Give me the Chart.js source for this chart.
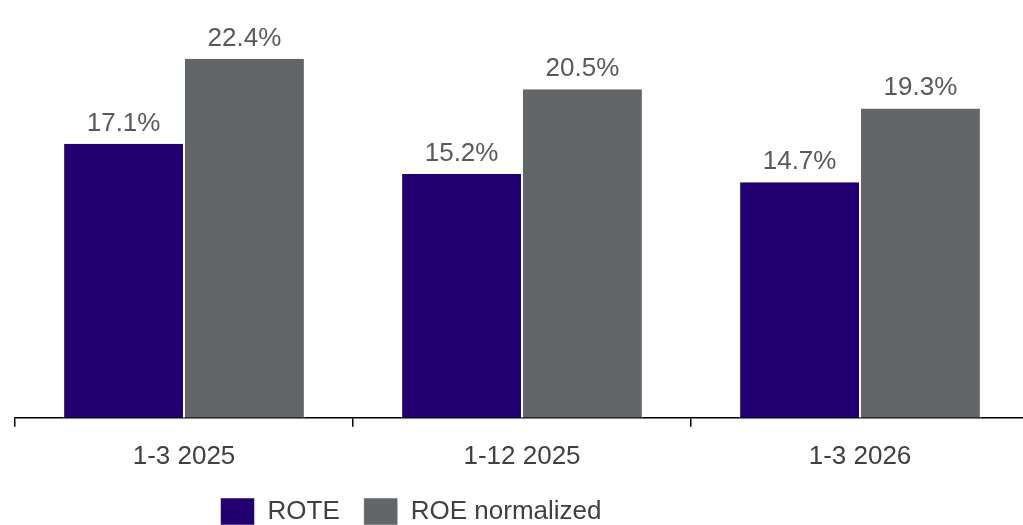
<!DOCTYPE html>
<html>
<head>
<meta charset="utf-8">
<script src="https://cdn.jsdelivr.net/npm/chart.js@4"></script>
<style>
    html, body { margin: 0; padding: 0; background: #fff; overflow: hidden; }
    #wrap { width: 1030px; height: 525px; }
</style>
</head>
<body>
<div id="wrap"><canvas id="chart"></canvas></div>
<script>
var periods = ['1-3 2025', '1-12 2025', '1-3 2026'];
var rote = [17.1, 15.2, 14.7];
var roeNormalized = [22.4, 20.5, 19.3];

var purple = '#230072';
var grey = '#636669';
var font = 'Arial, "Liberation Sans", sans-serif';

// percentage labels above each bar
var valueLabels = {
    id: 'valueLabels',
    afterDatasetsDraw: function(chart) {
        var ctx = chart.ctx;
        ctx.save();
        ctx.font = '26px ' + font;
        ctx.fillStyle = '#595959';
        ctx.textAlign = 'center';
        ctx.textBaseline = 'alphabetic';
        chart.data.datasets.forEach(function(ds, i) {
            chart.getDatasetMeta(i).data.forEach(function(bar, j) {
                ctx.fillText(ds.data[j].toFixed(1) + '%', bar.x, bar.y - 13);
            });
        });
        ctx.restore();
    }
};

// legend sits left of centre and a bit higher
var legendShift = {
    id: 'legendShift',
    afterLayout: function(chart) {
        chart.legend.left -= 111;
        chart.legend.right -= 111;
        chart.legend.top -= 12;
        chart.legend.bottom -= 12;
    }
};

new Chart(document.getElementById('chart'), {
    type: 'bar',
    data: {
        labels: periods,
        datasets: [{
            label: 'ROTE',
            data: rote,
            backgroundColor: purple,
            borderColor: '#ffffff',
            borderWidth: { left: 1, right: 1 },
            borderSkipped: false
        }, {
            label: 'ROE normalized',
            data: roeNormalized,
            backgroundColor: grey,
            borderColor: '#ffffff',
            borderWidth: { left: 1, right: 1 },
            borderSkipped: false
        }]
    },
    options: {
        responsive: true,
        maintainAspectRatio: false,
        animation: false,
        layout: { padding: { top: 17, left: 15, right: 1, bottom: -22 } },
        datasets: {
            bar: { categoryPercentage: 0.715, barPercentage: 1 }
        },
        scales: {
            x: {
                border: { display: true, color: '#000000', width: 1.5 },
                grid: {
                    offset: true,
                    drawOnChartArea: false,
                    drawTicks: true,
                    tickLength: 9,
                    color: '#000000',
                    lineWidth: 1.5
                },
                ticks: {
                    color: '#404040',
                    font: { family: font, size: 26 },
                    padding: 14
                }
            },
            y: {
                display: false,
                min: 0,
                max: 25
            }
        },
        plugins: {
            legend: {
                position: 'bottom',
                labels: {
                    boxWidth: 34,
                    boxHeight: 27,
                    padding: 24,
                    color: '#404040',
                    font: { family: font, size: 26 }
                }
            },
            tooltip: { enabled: false }
        }
    },
    plugins: [valueLabels, legendShift]
});
</script>
</body>
</html>
